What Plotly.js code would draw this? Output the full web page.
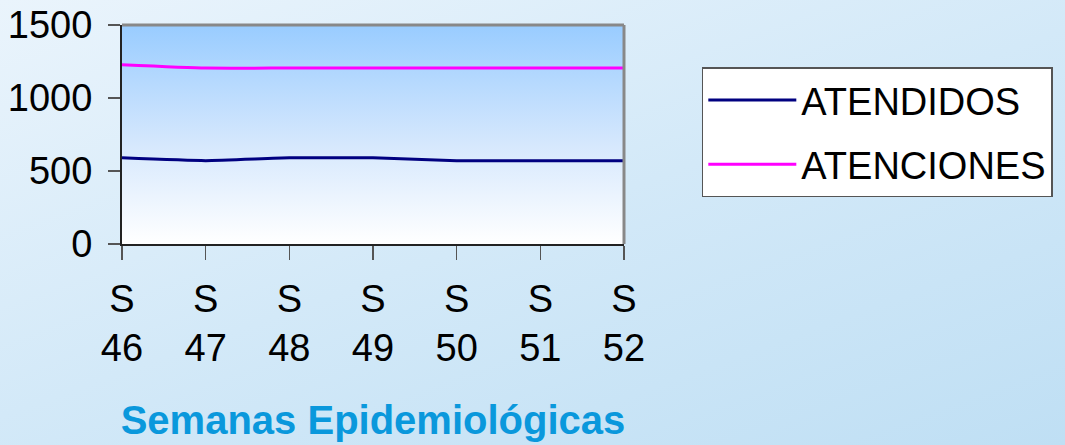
<!DOCTYPE html>
<html>
<head>
<meta charset="utf-8">
<script src="https://cdn.plot.ly/plotly-3.0.1.min.js"></script>
<style>
  html, body { margin: 0; padding: 0; }
  body { width: 1065px; height: 445px; background: linear-gradient(160deg, #eaf4fc 0%, #d3e9f8 50%, #bfdff4 100%); }
  #chart { width: 1065px; height: 445px; }
</style>
</head>
<body>
<div id="chart"></div>
<script>
const weeks = ["S<br>46", "S<br>47", "S<br>48", "S<br>49", "S<br>50", "S<br>51", "S<br>52"];
const atendidos = [590, 571, 590, 590, 571, 571, 571];
const atenciones = [1228, 1205, 1205, 1205, 1205, 1205, 1205];
const yTicks = [0, 500, 1000, 1500];
const seriesNames = ["ATENDIDOS", "ATENCIONES"];
const seriesColors = ["#000080", "#ff00ff"];
const xTitle = "Semanas Epidemiológicas";

const gradSvg = '<svg xmlns="http://www.w3.org/2000/svg" width="10" height="100" preserveAspectRatio="none">' +
  '<defs><linearGradient id="g" x1="0" y1="0" x2="0" y2="1">' +
  '<stop offset="0" stop-color="#99ccff"/><stop offset="0.55" stop-color="#d6e8fd"/><stop offset="1" stop-color="#ffffff"/>' +
  '</linearGradient></defs><rect width="10" height="100" fill="url(#g)"/></svg>';
const gradUrl = 'data:image/svg+xml;base64,' + btoa(gradSvg);

const xIdx = weeks.map((_, i) => i);

const traces = [
  { x: xIdx, y: atendidos, name: seriesNames[0], type: 'scatter', mode: 'lines',
    line: { color: seriesColors[0], width: 3, shape: 'spline', smoothing: 0.5 }, legendgroup: 'a' },
  { x: xIdx, y: atenciones, name: seriesNames[1], type: 'scatter', mode: 'lines',
    line: { color: seriesColors[1], width: 3, shape: 'spline', smoothing: 0.5 }, legendgroup: 'b' }
];

const layout = {
  width: 1065, height: 445,
  margin: { l: 122, r: 439, t: 25, b: 201 },
  paper_bgcolor: 'rgba(0,0,0,0)',
  plot_bgcolor: 'rgba(0,0,0,0)',
  font: { family: 'Liberation Sans, Arial, sans-serif', size: 38, color: '#000' },
  showlegend: true,
  legend: {
    x: 1.155, y: 0.807, xanchor: 'left', yanchor: 'top',
    bgcolor: '#ffffff', bordercolor: '#555555', borderwidth: 1.5,
    font: { size: 38, color: '#000' },
    tracegroupgap: 12, itemwidth: 88
  },
  xaxis: {
    range: [0, 6], tickmode: 'array', tickvals: xIdx, ticktext: weeks,
    showgrid: false, zeroline: false, showline: true, linecolor: '#222', linewidth: 2,
    ticks: 'outside', ticklen: 14, tickcolor: '#555', tickwidth: 1.5,
    ticklabelstandoff: 6,
    tickfont: { size: 38 },
    title: { text: xTitle, font: { size: 40, color: '#0a98dc', weight: 'bold' }, standoff: 38 }
  },
  yaxis: {
    range: [0, 1500], tickmode: 'array', tickvals: yTicks,
    showgrid: false, zeroline: false, showline: true, linecolor: '#222', linewidth: 2,
    ticks: 'outside', ticklen: 12, tickcolor: '#555', tickwidth: 1.5,
    ticklabelstandoff: 8,
    tickfont: { size: 38 }
  },
  images: [{ source: gradUrl, xref: 'paper', yref: 'paper', x: 0, y: 1, sizex: 1, sizey: 1,
    sizing: 'stretch', layer: 'below', xanchor: 'left', yanchor: 'top' }],
  shapes: [
    { type: 'line', xref: 'paper', yref: 'paper', x0: 0, x1: 1, y0: 1, y1: 1, line: { color: '#888', width: 3 } },
    { type: 'line', xref: 'paper', yref: 'paper', x0: 1, x1: 1, y0: 0, y1: 1, line: { color: '#888', width: 3 } }
  ]
};

Plotly.newPlot('chart', traces, layout, { displayModeBar: false, staticPlot: true });
</script>
</body>
</html>
